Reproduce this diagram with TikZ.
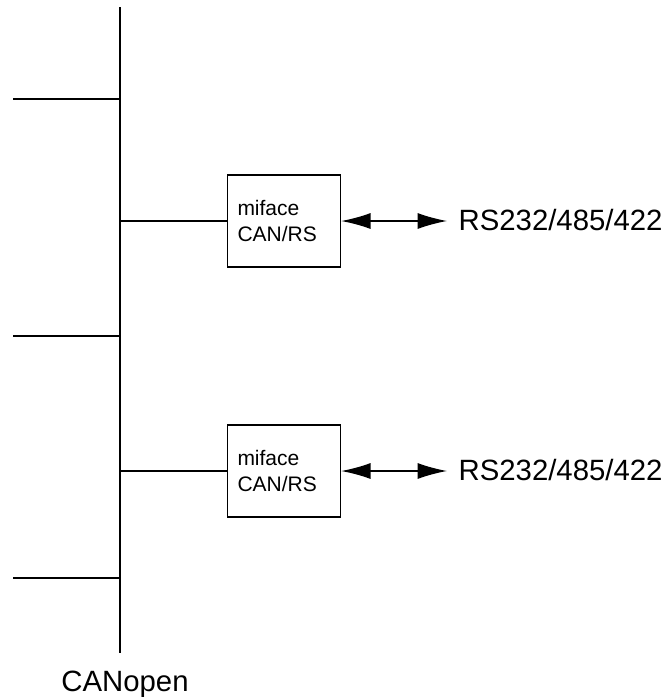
\documentclass[tikz,border=0pt]{standalone}
\usepackage{fontspec}
\setmainfont{Liberation Sans}
\usetikzlibrary{arrows.meta,positioning}

\begin{document}
\begin{tikzpicture}[x=0.75pt,y=-0.75pt,line width=1pt,
  >={Latex[length=22pt,width=12pt]},
  iface/.style={draw,minimum width=84.75pt,minimum height=69pt,inner xsep=7.5pt,
    text width=69.75pt,align=left,font=\fontsize{15.75}{19.5}\selectfont},
  biglabel/.style={inner sep=0pt,font=\fontsize{22}{26}\selectfont}]
  \useasboundingbox (0,0) rectangle (664,697);
  % bus
  \coordinate (bustop) at (120,7);
  \coordinate (busbot) at (120,653);
  \draw (bustop) -- (busbot);
  \node[biglabel,anchor=base] (canopen) at (125,691) {CANopen};
  % free stubs
  \foreach \y/\n in {99/a,336/b,578/c} {
    \coordinate (stub\n) at (13,\y);
    \draw (stub\n) -- (120,\y);
  }
  % interfaces
  \node[iface] (ifaceA) at (284,221) {miface\\CAN/RS};
  \node[iface] (ifaceB) at (284,471) {miface\\CAN/RS};
  \coordinate (tapA) at (120,221);
  \coordinate (tapB) at (120,471);
  \draw (tapA) -- (ifaceA);
  \draw (tapB) -- (ifaceB);
  \node[biglabel,anchor=base west] (rsA) at (458,230) {RS232/485/422};
  \node[biglabel,anchor=base west] (rsB) at (458,480) {RS232/485/422};
  \coordinate (endA) at (447,221);
  \coordinate (endB) at (447,471);
  \draw[<->] (ifaceA) -- (endA);
  \draw[<->] (ifaceB) -- (endB);
\end{tikzpicture}
\end{document}
